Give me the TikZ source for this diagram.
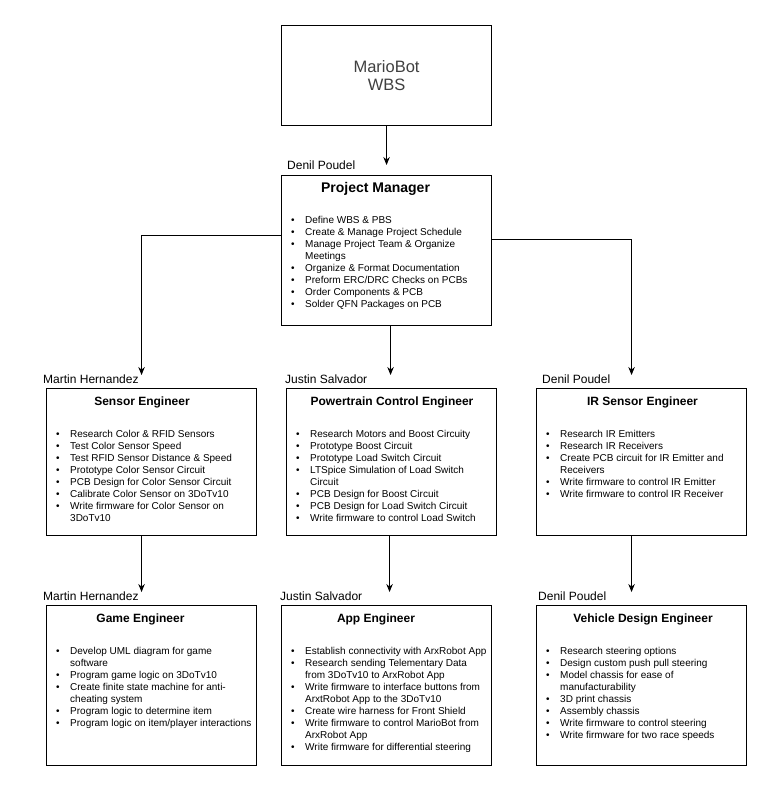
\documentclass[tikz,border=0pt]{standalone}
\usepackage{fontspec}
\setmainfont{Liberation Sans}
\usetikzlibrary{arrows.meta, positioning}

\newcommand{\wbsdot}{\makebox[24pt][l]{\hspace{10pt}\textbullet}}
\newcommand{\tasklist}[1]{\begin{tabular}[t]{@{}l@{}l@{}}#1\end{tabular}}

\begin{document}
\begin{tikzpicture}[x=1pt, y=-1pt,
    wbsbox/.style={draw, line width=1.1pt, minimum width=210pt, inner sep=0pt, anchor=north west},
    role/.style={anchor=base, inner sep=0pt, font=\bfseries\fontsize{12}{14}\selectfont},
    person/.style={anchor=base west, inner sep=0pt, font=\fontsize{12}{14}\selectfont},
    tasks/.style={anchor=base west, inner sep=0pt, font=\fontsize{10}{12}\selectfont},
    wbsarrow/.style={line width=0.8pt, -{Stealth[length=8pt, width=6.5pt]}}
]
    \fill[white] (0,0) rectangle (771,791);
    \useasboundingbox (0,0) rectangle (771,791);

    % Boxes
    \node[wbsbox, minimum height=100pt, align=center, text=black!75,
          font=\fontsize{16.5}{18.5}\selectfont] (wbs) at (281,25) {MarioBot\\WBS};
    \node[wbsbox, minimum height=150pt] (pm) at (281,175) {};
    \node[wbsbox, minimum height=147pt] (sensor) at (46,388) {};
    \node[wbsbox, minimum height=147pt] (power) at (286,388) {};
    \node[wbsbox, minimum height=147pt] (ir) at (536,388) {};
    \node[wbsbox, minimum height=160pt] (game) at (46,605) {};
    \node[wbsbox, minimum height=160pt] (app) at (281,605) {};
    \node[wbsbox, minimum height=160pt] (vehicle) at (536,605) {};

    % Names
    \node[person] (pmname) at ([xshift=6pt, yshift=5pt]pm.north west) {Denil Poudel};
    \node[person] (sensorname) at ([xshift=-3pt, yshift=5pt]sensor.north west) {Martin Hernandez};
    \node[person] (powername) at ([xshift=-1pt, yshift=5pt]power.north west) {Justin Salvador};
    \node[person] (irname) at ([xshift=6pt, yshift=5pt]ir.north west) {Denil Poudel};
    \node[person] (gamename) at ([xshift=-3pt, yshift=5pt]game.north west) {Martin Hernandez};
    \node[person] (appname) at ([xshift=-1pt, yshift=5pt]app.north west) {Justin Salvador};
    \node[person] (vehiclename) at ([xshift=2pt, yshift=5pt]vehicle.north west) {Denil Poudel};

    % Roles
    \node[role, font=\bfseries\fontsize{14}{16}\selectfont] (pmrole)
        at ([xshift=94.5pt, yshift=-17.7pt]pm.north west) {Project Manager};
    \node[role] (sensorrole) at ([xshift=96pt, yshift=-17.7pt]sensor.north west) {Sensor Engineer};
    \node[role] (powerrole) at ([xshift=106pt, yshift=-17.7pt]power.north west) {Powertrain Control Engineer};
    \node[role] (irrole) at ([xshift=106.5pt, yshift=-17.7pt]ir.north west) {IR Sensor Engineer};
    \node[role] (gamerole) at ([xshift=94.5pt, yshift=-17.7pt]game.north west) {Game Engineer};
    \node[role] (approle) at ([xshift=95pt, yshift=-17.7pt]app.north west) {App Engineer};
    \node[role] (vehiclerole) at ([xshift=107pt, yshift=-17.7pt]vehicle.north west) {Vehicle Design Engineer};

    % Tasks
    \node[tasks] (pmtasks) at ([yshift=-48.5pt]pm.north west) {\tasklist{
        \wbsdot & Define WBS \& PBS\\
        \wbsdot & Create \& Manage Project Schedule\\
        \wbsdot & Manage Project Team \& Organize\\
                & Meetings\\
        \wbsdot & Organize \& Format Documentation\\
        \wbsdot & Preform ERC/DRC Checks on PCBs\\
        \wbsdot & Order Components \& PCB\\
        \wbsdot & Solder QFN Packages on PCB\\}};
    \node[tasks] (sensortasks) at ([yshift=-49pt]sensor.north west) {\tasklist{
        \wbsdot & Research Color \& RFID Sensors\\
        \wbsdot & Test Color Sensor Speed\\
        \wbsdot & Test RFID Sensor Distance \& Speed\\
        \wbsdot & Prototype Color Sensor Circuit\\
        \wbsdot & PCB Design for Color Sensor Circuit\\
        \wbsdot & Calibrate Color Sensor on 3DoTv10\\
        \wbsdot & Write firmware for Color Sensor on\\
                & 3DoTv10\\}};
    \node[tasks] (powertasks) at ([yshift=-49pt]power.north west) {\tasklist{
        \wbsdot & Research Motors and Boost Circuity\\
        \wbsdot & Prototype Boost Circuit\\
        \wbsdot & Prototype Load Switch Circuit\\
        \wbsdot & LTSpice Simulation of Load Switch\\
                & Circuit\\
        \wbsdot & PCB Design for Boost Circuit\\
        \wbsdot & PCB Design for Load Switch Circuit\\
        \wbsdot & Write firmware to control Load Switch\\}};
    \node[tasks] (irtasks) at ([yshift=-49pt]ir.north west) {\tasklist{
        \wbsdot & Research IR Emitters\\
        \wbsdot & Research IR Receivers\\
        \wbsdot & Create PCB circuit for IR Emitter and\\
                & Receivers\\
        \wbsdot & Write firmware to control IR Emitter\\
        \wbsdot & Write firmware to control IR Receiver\\}};
    \node[tasks] (gametasks) at ([yshift=-49pt]game.north west) {\tasklist{
        \wbsdot & Develop UML diagram for game\\
                & software\\
        \wbsdot & Program game logic on 3DoTv10\\
        \wbsdot & Create finite state machine for anti-\\
                & cheating system\\
        \wbsdot & Program logic to determine item\\
        \wbsdot & Program logic on item/player interactions\\}};
    \node[tasks] (apptasks) at ([yshift=-49pt]app.north west) {\tasklist{
        \wbsdot & Establish connectivity with ArxRobot App\\
        \wbsdot & Research sending Telementary Data\\
                & from 3DoTv10 to ArxRobot App\\
        \wbsdot & Write firmware to interface buttons from\\
                & ArxtRobot App to the 3DoTv10\\
        \wbsdot & Create wire harness for Front Shield\\
        \wbsdot & Write firmware to control MarioBot from\\
                & ArxRobot App\\
        \wbsdot & Write firmware for differential steering\\}};
    \node[tasks] (vehicletasks) at ([yshift=-49pt]vehicle.north west) {\tasklist{
        \wbsdot & Research steering options\\
        \wbsdot & Design custom push pull steering\\
        \wbsdot & Model chassis for ease of\\
                & manufacturability\\
        \wbsdot & 3D print chassis\\
        \wbsdot & Assembly chassis\\
        \wbsdot & Write firmware to control steering\\
        \wbsdot & Write firmware for two race speeds\\}};

    % Connectors
    \draw[wbsarrow] (wbs.south) -- ([yshift=10pt]pm.north);
    \draw[wbsarrow] ([yshift=15pt]pm.west) -| ([xshift=-10pt, yshift=13pt]sensor.north);
    \draw[wbsarrow] ([xshift=4pt]pm.south) -- ([xshift=-1pt, yshift=13pt]power.north);
    \draw[wbsarrow] ([yshift=11pt]pm.east) -| ([xshift=-10pt, yshift=13pt]ir.north);
    \draw[wbsarrow] ([xshift=-10pt]sensor.south) -- ([xshift=-10pt, yshift=13pt]game.north);
    \draw[wbsarrow] ([xshift=-2pt]power.south) -- ([xshift=3pt, yshift=13pt]app.north);
    \draw[wbsarrow] ([xshift=-10pt]ir.south) -- ([xshift=-10pt, yshift=13pt]vehicle.north);
\end{tikzpicture}
\end{document}
